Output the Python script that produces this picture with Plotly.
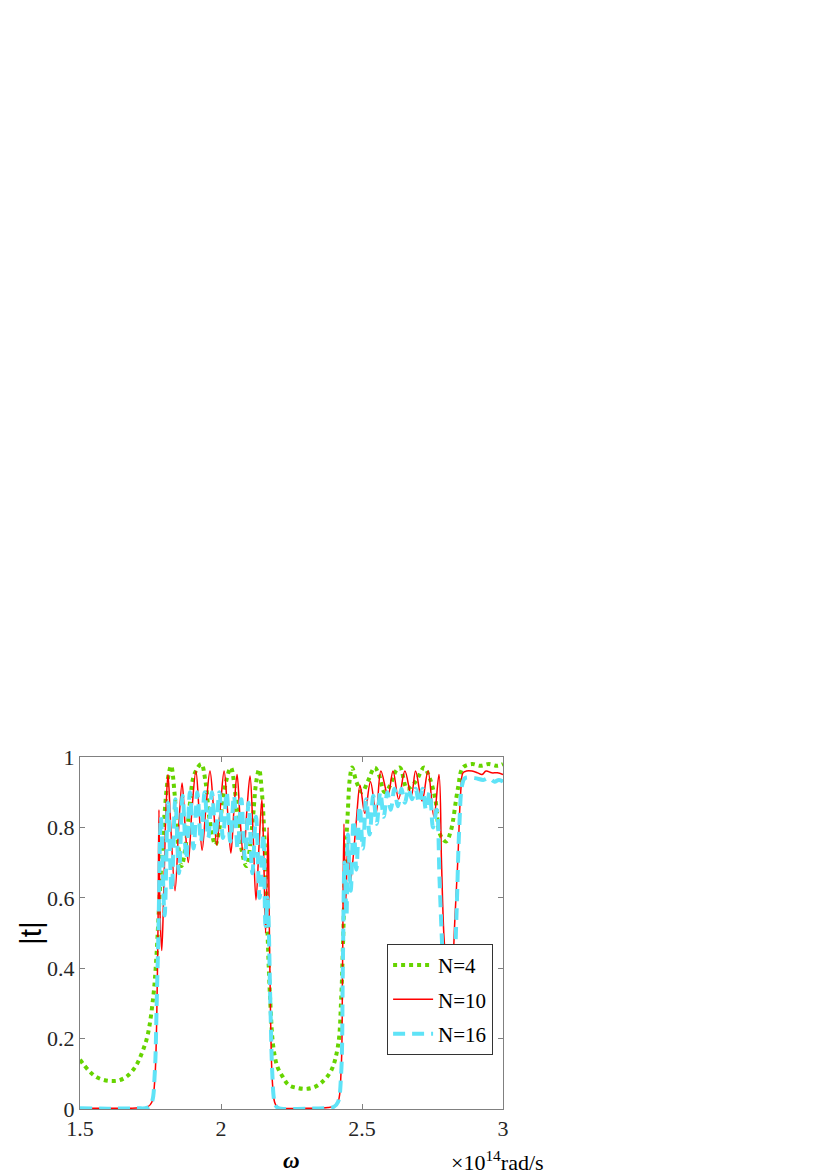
import plotly.graph_objects as go

# ---- data ----
x_n4 = [1.50, 1.53, 1.56, 1.60, 1.64, 1.67, 1.70, 1.72, 1.74, 1.76, 1.77, 1.78, 1.79, 1.80, 1.812,
        1.823, 1.835, 1.848, 1.86, 1.875, 1.89, 1.905, 1.93, 1.945, 1.96, 1.98, 1.995, 2.01, 2.035,
        2.05, 2.07, 2.09, 2.11, 2.125, 2.135, 2.145, 2.155, 2.165, 2.175, 2.185, 2.20, 2.22, 2.24,
        2.27, 2.30, 2.33, 2.355, 2.39, 2.415, 2.426, 2.432, 2.44, 2.45, 2.457, 2.465, 2.48, 2.50,
        2.52, 2.545, 2.56, 2.58, 2.60, 2.62, 2.635, 2.66, 2.69, 2.72, 2.74, 2.76, 2.777, 2.798,
        2.815, 2.84, 2.858, 2.89, 2.92, 2.95, 2.98, 3.00]
y_n4 = [0.14, 0.11, 0.09, 0.08, 0.082, 0.095, 0.125, 0.16, 0.21, 0.32, 0.42, 0.57, 0.72, 0.84, 0.94,
        0.975, 0.90, 0.75, 0.69, 0.75, 0.87, 0.95, 0.98, 0.93, 0.82, 0.75, 0.80, 0.90, 0.97,
        0.90, 0.75, 0.69, 0.80, 0.93, 0.965, 0.90, 0.75, 0.50, 0.30, 0.18, 0.12, 0.09, 0.068,
        0.06, 0.057, 0.062, 0.074, 0.108, 0.18, 0.31, 0.45, 0.68, 0.85, 0.94, 0.97, 0.93, 0.90,
        0.93, 0.97, 0.95, 0.90, 0.92, 0.96, 0.97, 0.91, 0.93, 0.97, 0.94, 0.88, 0.78, 0.76,
        0.79, 0.91, 0.97, 0.98, 0.975, 0.98, 0.975, 0.98]

x_n10 = [1.50, 1.60, 1.70, 1.74, 1.755, 1.765, 1.772, 1.777, 1.780, 1.784, 1.790, 1.797, 1.805, 1.812,
         1.822, 1.837, 1.850, 1.862, 1.873, 1.884, 1.897, 1.911, 1.922, 1.933, 1.947, 1.961, 1.973,
         1.985, 1.998, 2.011, 2.023, 2.035, 2.046, 2.057, 2.068, 2.080, 2.092, 2.103, 2.113, 2.124,
         2.135, 2.145, 2.152, 2.158, 2.163, 2.167, 2.171, 2.176, 2.182, 2.19, 2.20, 2.30, 2.38,
         2.40, 2.415, 2.426, 2.431, 2.436, 2.442, 2.45, 2.458, 2.467, 2.48, 2.493, 2.51, 2.53,
         2.55, 2.567, 2.592, 2.61, 2.63, 2.652, 2.675, 2.69, 2.713, 2.734, 2.755, 2.773, 2.782,
         2.79, 2.80, 2.81, 2.82, 2.83, 2.84, 2.85, 2.858, 2.87, 2.89, 2.91, 2.925, 2.94, 2.96,
         2.98, 3.00]
y_n10 = [0.003, 0.002, 0.003, 0.006, 0.02, 0.08, 0.25, 0.55, 0.85, 0.55, 0.45, 0.62, 0.85, 0.95,
         0.80, 0.62, 0.80, 0.926, 0.80, 0.70, 0.85, 0.96, 0.85, 0.735, 0.86, 0.96, 0.86,
         0.75, 0.86, 0.96, 0.85, 0.727, 0.85, 0.95, 0.82, 0.713, 0.85, 0.946, 0.80, 0.594,
         0.75, 0.88, 0.70, 0.50, 0.65, 0.80, 0.55, 0.25, 0.08, 0.02, 0.006, 0.002, 0.004,
         0.008, 0.02, 0.11, 0.40, 0.81, 0.58, 0.76, 0.64, 0.70, 0.82, 0.92, 0.84, 0.93,
         0.84, 0.96, 0.89, 0.96, 0.88, 0.96, 0.89, 0.96, 0.875, 0.96, 0.83, 0.95, 0.70,
         0.50, 0.38, 0.30, 0.38, 0.55, 0.71, 0.90, 0.955, 0.96, 0.96, 0.955, 0.95, 0.96, 0.955,
         0.955, 0.95]

x_n16 = [1.50, 1.60, 1.70, 1.74, 1.755, 1.765, 1.772, 1.778, 1.787, 1.80, 1.812, 1.825, 1.838, 1.851,
         1.864, 1.877, 1.89, 1.903, 1.916, 1.929, 1.942, 1.955, 1.968, 1.981, 1.994, 2.007, 2.02,
         2.033, 2.046, 2.059, 2.072, 2.085, 2.098, 2.111, 2.124, 2.137, 2.150, 2.158, 2.165, 2.175,
         2.182, 2.19, 2.20, 2.30, 2.38, 2.40, 2.415, 2.426, 2.432, 2.438, 2.445, 2.45, 2.46, 2.47,
         2.48, 2.492, 2.503, 2.515, 2.527, 2.54, 2.552, 2.565, 2.577, 2.59, 2.602, 2.615, 2.627,
         2.64, 2.652, 2.665, 2.677, 2.69, 2.702, 2.715, 2.727, 2.74, 2.752, 2.765, 2.775, 2.785,
         2.795, 2.81, 2.825, 2.835, 2.845, 2.855, 2.865, 2.90, 2.93, 2.95, 2.97, 2.985, 3.00]
y_n16 = [0.002, 0.001, 0.002, 0.004, 0.02, 0.10, 0.30, 0.50, 0.83, 0.55, 0.87, 0.62, 0.88, 0.67,
         0.89, 0.71, 0.90, 0.74, 0.90, 0.76, 0.90, 0.77, 0.90, 0.775, 0.90, 0.77, 0.90,
         0.76, 0.89, 0.74, 0.88, 0.71, 0.87, 0.67, 0.83, 0.60, 0.78, 0.52, 0.60, 0.30,
         0.10, 0.02, 0.004, 0.001, 0.003, 0.006, 0.02, 0.10, 0.40, 0.70, 0.55, 0.78, 0.62, 0.82,
         0.68, 0.86, 0.74, 0.88, 0.78, 0.89, 0.81, 0.90, 0.83, 0.90, 0.85, 0.91, 0.86,
         0.91, 0.87, 0.91, 0.88, 0.91, 0.87, 0.91, 0.85, 0.90, 0.80, 0.85, 0.65, 0.45,
         0.30, 0.25, 0.35, 0.55, 0.80, 0.92, 0.94, 0.94, 0.935, 0.94, 0.93, 0.935, 0.93]

series_names = ["N=4", "N=10", "N=16"]
x_ticks = [1.5, 2, 2.5, 3]
x_tick_labels = ["1.5", "2", "2.5", "3"]
y_ticks = [0, 0.2, 0.4, 0.6, 0.8, 1]
y_tick_labels = ["0", "0.2", "0.4", "0.6", "0.8", "1"]

SERIF = "Liberation Serif, Times New Roman, serif"
AX = "#262626"

fig = go.Figure()
fig.add_trace(go.Scatter(x=x_n4, y=y_n4, name=series_names[0], mode="lines", legendgroup="a",
                         line=dict(color="#66d400", width=4, dash="4px,4px", shape="spline", smoothing=1.0)))
fig.add_trace(go.Scatter(x=x_n10, y=y_n10, name=series_names[1], mode="lines", legendgroup="b",
                         line=dict(color="#ff0000", width=1.5, shape="spline", smoothing=1.0)))
fig.add_trace(go.Scatter(x=x_n16, y=y_n16, name=series_names[2], mode="lines", legendgroup="c",
                         line=dict(color="#5fe3f7", width=4, dash="12px,7px", shape="spline", smoothing=1.0)))

axis_common = dict(showgrid=False, zeroline=False, showline=True, linecolor="#808080", linewidth=1,
                   mirror="allticks", ticks="inside", ticklen=5, tickcolor="#808080",
                   tickfont=dict(family=SERIF, size=22, color=AX))

fig.update_xaxes(range=[1.5, 3.0], tickvals=x_ticks, ticktext=x_tick_labels, **axis_common)
fig.update_yaxes(range=[0, 1], tickvals=y_ticks, ticktext=y_tick_labels, **axis_common)

fig.update_layout(
    width=830, height=1174,
    margin=dict(l=72, r=335, t=749, b=73),
    paper_bgcolor="white", plot_bgcolor="white",
    showlegend=True,
    legend=dict(x=0.726, y=0.469, xanchor="left", yanchor="top",
                bgcolor="white", bordercolor="#333333", borderwidth=1,
                font=dict(family=SERIF, size=21, color="#000000"),
                traceorder="grouped", tracegroupgap=4, itemwidth=40),
    annotations=[
        dict(text="<b><i>ω</i></b>", xref="paper", yref="paper", x=0.5, y=-0.145,
             xanchor="center", yanchor="middle", showarrow=False,
             font=dict(family=SERIF, size=23, color="#000000")),
        dict(text="×10<sup>14</sup>rad/s", xref="paper", yref="paper", x=0.986, y=-0.193,
             xanchor="center", yanchor="bottom", showarrow=False,
             font=dict(family=SERIF, size=22, color="#000000")),
        dict(text="|t|", xref="paper", yref="paper", x=-0.118, y=0.5, textangle=-90,
             xanchor="center", yanchor="middle", showarrow=False,
             font=dict(family="Liberation Sans, Arial, sans-serif", size=30, color="#000000")),
    ],
)

fig.write_html("out.html")
